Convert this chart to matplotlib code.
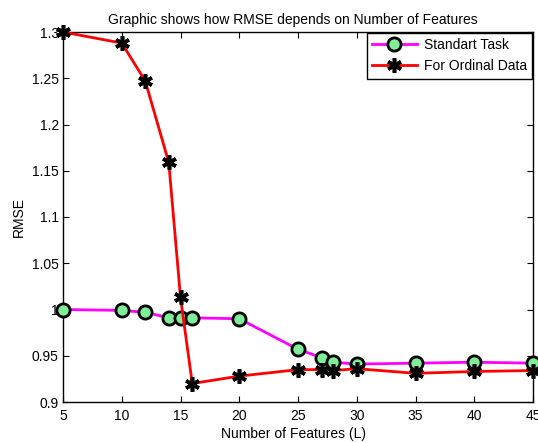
import matplotlib.pyplot as plt

plt.rcParams['font.family'] = ['Liberation Sans', 'DejaVu Sans']

features = [5, 10, 12, 14, 15, 16, 20, 25, 27, 28, 30, 35, 40, 45]
rmse_standart = [1.0, 0.999, 0.997, 0.991, 0.991, 0.991, 0.990, 0.957, 0.948, 0.943, 0.941, 0.942, 0.943, 0.942]
rmse_ordinal = [1.3, 1.288, 1.247, 1.159, 1.013, 0.920, 0.928, 0.935, 0.935, 0.934, 0.936, 0.931, 0.933, 0.934]
xticks = [5, 10, 15, 20, 25, 30, 35, 40, 45]
yticks = [0.9, 0.95, 1.0, 1.05, 1.1, 1.15, 1.2, 1.25, 1.3]
ylabels = ['0.9', '0.95', '1', '1.05', '1.1', '1.15', '1.2', '1.25', '1.3']

fig = plt.figure(figsize=(5.38, 4.43), dpi=100)
ax = fig.add_axes([63/538, 41/443, 470/538, 370/443])

ax.plot(features, rmse_standart, color='#ff00ff', lw=2, marker='o', ms=9.5,
        mfc='#80ee99', mec='black', mew=2, label='Standart Task', clip_on=False, zorder=3)
ax.plot(features, rmse_ordinal, color='red', lw=2, marker=(6, 2, 0), ms=10.5,
        mec='black', mew=2.6, label='For Ordinal Data', clip_on=False, zorder=3)

ax.set_xlim(5, 45)
ax.set_ylim(0.9, 1.3)
ax.set_xticks(xticks)
ax.set_yticks(yticks)
ax.set_yticklabels(ylabels)
ax.tick_params(direction='in', top=True, right=True, labelsize=10, length=4, pad=3)
ax.tick_params(axis='x', pad=5)
for s in ax.spines.values():
    s.set_linewidth(1.0)

ax.set_xlabel('Number of Features (L)', fontsize=10, labelpad=3, x=0.49)
ax.set_ylabel('RMSE', fontsize=10, labelpad=4)
ax.set_title('Graphic shows how RMSE depends on Number of Features', fontsize=10, pad=6, x=0.488)

leg = ax.legend(loc='upper right', fontsize=10, fancybox=False, framealpha=1,
                edgecolor='black', borderaxespad=0.05, handlelength=3.2, borderpad=0.4,
                labelspacing=0.5, handletextpad=0.5)
leg.get_frame().set_linewidth(1.0)

fig.savefig('out.png', dpi=100)
